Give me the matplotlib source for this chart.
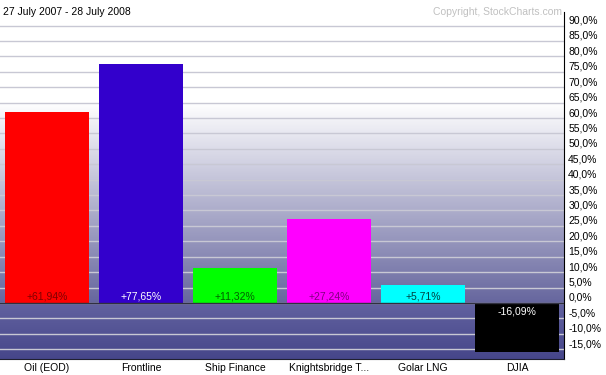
import matplotlib
matplotlib.use('Agg')
import matplotlib.pyplot as plt
import numpy as np
from matplotlib.colors import to_rgb

plt.rcParams['font.family'] = ['Liberation Sans', 'DejaVu Sans']

names = ['Oil (EOD)', 'Frontline', 'Ship Finance', 'Knightsbridge T...', 'Golar LNG', 'DJIA']
changes = [61.94, 77.65, 11.32, 27.24, 5.71, -16.09]
bar_colors = ['#ff0000', '#3300cc', '#00ff00', '#ff00ff', '#00ffff', '#000000']
text_colors = ['#800000', '#ffffff', '#006000', '#800080', '#004040', '#ffffff']
ticks = np.arange(-15, 91, 5)

ymin, ymax = -18.2, 94.4

fig = plt.figure(figsize=(6.06, 3.75), dpi=100)
ax = fig.add_axes([0, 1 - 359 / 375, 564 / 606, (359 - 12) / 375])

# background gradient: white -> purple above zero, darker purple below
ys = np.linspace(ymax, ymin, 400)
white = np.array(to_rgb('#ffffff'))
top0 = np.array(to_rgb('#66669e'))
neg_top = np.array(to_rgb('#6262a0'))
neg_bot = np.array(to_rgb('#46468a'))
rows = []
for y in ys:
    if y >= 0:
        t = min(max((65 - y) / 65, 0), 1)
        rows.append(white + (top0 - white) * t)
    else:
        t = y / ymin
        rows.append(neg_top + (neg_bot - neg_top) * t)
grad = np.array(rows)[:, None, :]
ax.imshow(grad, extent=[-0.5, 5.5, ymin, ymax], aspect='auto', zorder=0, interpolation='bilinear')

for t in ticks:
    ax.axhline(t, color='#c8c8d4', lw=1, zorder=1)
ax.axhline(0, color='#303040', lw=1, zorder=3)

x = np.arange(len(names))
ax.bar(x, changes, width=0.89, color=bar_colors, zorder=2)

for xi, v, c in zip(x, changes, text_colors):
    lab = ('+' if v > 0 else '') + f'{v:.2f}'.replace('.', ',') + '%'
    if v > 0:
        ax.text(xi, 0.6, lab, ha='center', va='bottom', fontsize=7.5, color=c, zorder=4)
    else:
        ax.text(xi, -1.2, lab, ha='center', va='top', fontsize=7.5, color=c, zorder=4)

ax.set_xlim(-0.5, 5.5)
ax.set_ylim(ymin, ymax)
ax.set_xticks(x)
ax.set_xticklabels(names, fontsize=7.5)
ax.set_yticks(ticks)
ax.set_yticklabels([f'{t:.1f}'.replace('.', ',') + '%' for t in ticks], fontsize=7.5)
ax.yaxis.tick_right()
ax.tick_params(axis='y', length=0, pad=3)
ax.tick_params(axis='x', length=0, pad=3)
for lbl in ax.get_yticklabels():
    lbl.set_verticalalignment('bottom')

ax.spines['top'].set_visible(False)
ax.spines['left'].set_visible(False)
ax.spines['right'].set_color('black')
ax.spines['bottom'].set_color('#202030')

fig.text(3 / 606, 1 - 12 / 375, '27 July 2007 - 28 July 2008', fontsize=7.5, va='center', ha='left')
fig.text(562 / 606, 1 - 12 / 375, 'Copyright, StockCharts.com', fontsize=7.5, va='center', ha='right', color='#c0c0c0')

fig.savefig('out.png', dpi=100)
